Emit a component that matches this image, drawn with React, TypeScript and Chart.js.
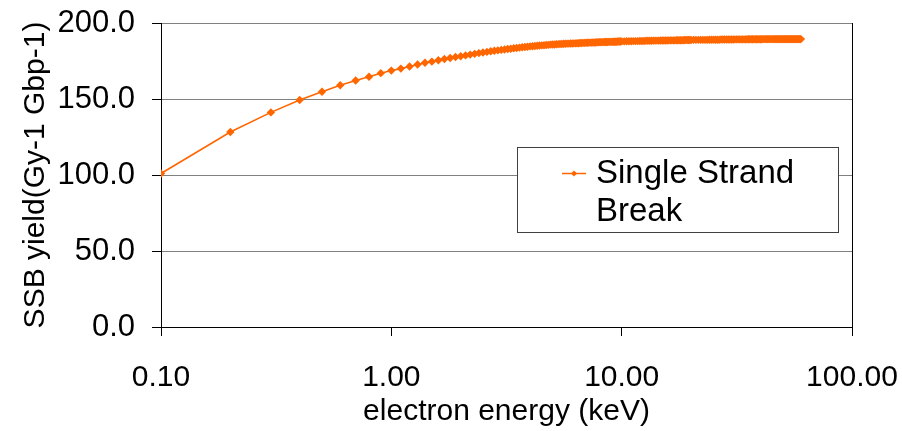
import React, { useEffect, useRef } from 'react';
import { Chart, registerables } from 'chart.js';

Chart.register(...registerables);

// Electron energy (keV) at which the SSB yield was sampled
const energyKeV = [
  0.1, 0.2, 0.3, 0.4, 0.5, 0.6, 0.7, 0.8, 0.9, 1.0,
  1.1, 1.2, 1.3, 1.4, 1.5, 1.6, 1.7, 1.8, 1.9, 2.0,
  2.1, 2.2, 2.3, 2.4, 2.5, 2.6, 2.7, 2.8, 2.9, 3.0,
  3.1, 3.2, 3.3, 3.4, 3.5, 3.6, 3.7, 3.8, 3.9, 4.0,
  4.1, 4.2, 4.3, 4.4, 4.5, 4.6, 4.7, 4.8, 4.9, 5.0,
  5.1, 5.2, 5.3, 5.4, 5.5, 5.6, 5.7, 5.8, 5.9, 6.0,
  6.1, 6.2, 6.3, 6.4, 6.5, 6.6, 6.7, 6.8, 6.9, 7.0,
  7.1, 7.2, 7.3, 7.4, 7.5, 7.6, 7.7, 7.8, 7.9, 8.0,
  8.1, 8.2, 8.3, 8.4, 8.5, 8.6, 8.7, 8.8, 8.9, 9.0,
  9.1, 9.2, 9.3, 9.4, 9.5, 9.6, 9.7, 9.8, 9.9, 10.0,
  10.25, 10.5, 10.75, 11, 11.25, 11.5, 11.75, 12, 12.25, 12.5,
  12.75, 13, 13.25, 13.5, 13.75, 14, 14.25, 14.5, 14.75, 15,
  15.25, 15.5, 15.75, 16, 16.25, 16.5, 16.75, 17, 17.25, 17.5,
  17.75, 18, 18.25, 18.5, 18.75, 19, 19.25, 19.5, 19.75, 20,
  20.5, 21, 21.5, 22, 22.5, 23, 23.5,
  24, 24.5, 25, 25.5, 26, 26.5,
  27, 27.5, 28, 28.5, 29, 29.5, 30, 30.5,
  31, 31.5, 32, 32.5, 33, 33.5, 34, 34.5,
  35, 35.5, 36, 36.5, 37, 37.5, 38, 38.5, 39, 39.5, 40, 40.5,
  41, 41.5, 42, 42.5, 43, 43.5, 44, 44.5, 45, 45.5,
  46, 46.5, 47, 47.5, 48, 48.5, 49, 49.5, 50, 50.5,
  51, 51.5, 52, 52.5, 53, 53.5, 54, 54.5, 55, 55.5,
  56, 56.5, 57, 57.5, 58, 58.5, 59, 59.5, 60,
];

// SSB yield (Gy-1 Gbp-1)
const ssbYield = [
  101.0, 128.3, 141.2, 149.3, 154.8, 159.0, 162.2, 164.6, 167.0, 168.7,
  170.0, 171.4, 172.7, 173.8, 174.6, 175.5, 176.3, 177.0, 177.6, 178.1,
  178.7, 179.2, 179.7, 180.2, 180.6, 181.0, 181.4, 181.7, 182.0, 182.3,
  182.6, 182.9, 183.1, 183.4, 183.6, 183.8, 184.0, 184.2, 184.4, 184.6,
  184.7, 184.9, 185.0, 185.2, 185.3, 185.4, 185.5, 185.6, 185.8, 185.9,
  185.9, 186.0, 186.1, 186.2, 186.2, 186.3, 186.3, 186.4, 186.4, 186.5,
  186.5, 186.6, 186.6, 186.7, 186.7, 186.8, 186.8, 186.9, 186.9, 187.0,
  187.0, 187.1, 187.1, 187.1, 187.2, 187.2, 187.2, 187.3, 187.3, 187.4,
  187.4, 187.4, 187.4, 187.5, 187.5, 187.5, 187.5, 187.6, 187.6, 187.6,
  187.6, 187.7, 187.7, 187.7, 187.7, 187.8, 187.8, 187.8, 187.8, 187.9,
  187.9, 188.0, 188.0, 188.0, 188.1, 188.1, 188.1, 188.2, 188.2, 188.2,
  188.3, 188.3, 188.3, 188.3, 188.4, 188.4, 188.4, 188.4, 188.5, 188.5,
  188.5, 188.5, 188.5, 188.6, 188.6, 188.6, 188.6, 188.6, 188.7, 188.7,
  188.7, 188.7, 188.7, 188.7, 188.8, 188.8, 188.8, 188.8, 188.8, 188.8,
  188.9, 188.9, 188.9, 188.9, 188.9, 188.9, 188.9,
  189.0, 189.0, 189.0, 189.0, 189.0, 189.0,
  189.1, 189.1, 189.1, 189.1, 189.1, 189.1, 189.1, 189.1,
  189.2, 189.2, 189.2, 189.2, 189.2, 189.2, 189.2, 189.2,
  189.3, 189.3, 189.3, 189.3, 189.3, 189.3, 189.3, 189.3, 189.3, 189.3, 189.3, 189.3,
  189.4, 189.4, 189.4, 189.4, 189.4, 189.4, 189.4, 189.4, 189.4, 189.4,
  189.4, 189.4, 189.4, 189.4, 189.4, 189.4, 189.4, 189.4, 189.4, 189.4,
  189.4, 189.4, 189.4, 189.4, 189.4, 189.4, 189.4, 189.4, 189.4, 189.4,
  189.4, 189.4, 189.4, 189.4, 189.4, 189.4, 189.4, 189.4, 189.4,
];

const xTickValues = [0.1, 1, 10, 100];
const yTickValues = [0, 50, 100, 150, 200];
const legendLines = ['Single Strand', 'Break'];
const xTitle = 'electron energy (keV)';
const yTitle = 'SSB yield(Gy-1 Gbp-1)';

const FONT = '"Liberation Sans", Arial, Helvetica, sans-serif';
const ORANGE = '#FF6600';

function drawDiamond(ctx: CanvasRenderingContext2D, x: number, y: number, r: number) {
  ctx.beginPath();
  ctx.moveTo(x, y - r);
  ctx.lineTo(x + r, y);
  ctx.lineTo(x, y + r);
  ctx.lineTo(x - r, y);
  ctx.closePath();
  ctx.fill();
}

const boxLegend = {
  id: 'boxLegend',
  afterDraw(chart: any) {
    const ctx: CanvasRenderingContext2D = chart.ctx;
    const bx = 517;
    const by = 147;
    const bw = 321;
    const bh = 85;
    ctx.save();
    ctx.fillStyle = '#ffffff';
    ctx.fillRect(bx, by, bw, bh);
    ctx.strokeStyle = '#404040';
    ctx.lineWidth = 1;
    ctx.strokeRect(bx + 0.5, by + 0.5, bw, bh);
    // sample line + marker
    const ly = 173.5;
    ctx.strokeStyle = ORANGE;
    ctx.lineWidth = 1.5;
    ctx.beginPath();
    ctx.moveTo(562, ly);
    ctx.lineTo(586, ly);
    ctx.stroke();
    ctx.fillStyle = ORANGE;
    drawDiamond(ctx, 574, ly, 3);
    // text
    ctx.fillStyle = '#000000';
    ctx.font = `33px ${FONT}`;
    ctx.textAlign = 'left';
    ctx.textBaseline = 'middle';
    ctx.fillText(legendLines[0], 596, 174);
    ctx.fillText(legendLines[1], 596, 212);
    ctx.restore();
  },
};

function zeroPadding(s: any) {
  s.paddingTop = 0;
  s.paddingBottom = 0;
  s.paddingLeft = 0;
  s.paddingRight = 0;
}

export default function App() {
  const canvasRef = useRef<HTMLCanvasElement | null>(null);

  useEffect(() => {
    document.body.style.margin = '0';
    const canvas = canvasRef.current;
    if (!canvas) return;
    const points = energyKeV.map((x, i) => ({ x, y: ssbYield[i] }));
    const chart = new Chart(canvas, {
      type: 'line',
      data: {
        datasets: [
          {
            label: legendLines.join(' '),
            data: points,
            borderColor: ORANGE,
            backgroundColor: ORANGE,
            borderWidth: 1.6,
            pointStyle: 'rectRot',
            pointRadius: 4.2,
            pointBorderWidth: 0,
            pointBackgroundColor: ORANGE,
            tension: 0,
          },
        ],
      },
      options: {
        animation: false,
        responsive: false,
        maintainAspectRatio: false,
        layout: { padding: { top: 23, right: 50, left: 0, bottom: 0 } },
        plugins: {
          legend: { display: false },
          tooltip: { enabled: false },
        },
        scales: {
          x: {
            type: 'logarithmic',
            min: 0.1,
            max: 100,
            afterBuildTicks: (s: any) => {
              s.ticks = xTickValues.map((v) => ({ value: v }));
            },
            afterFit: (s: any) => {
              s.height = 104;
              zeroPadding(s);
            },
            ticks: {
              callback: (v: any) => Number(v).toFixed(2),
              color: '#000',
              font: { size: 30, family: FONT },
              padding: 24,
              maxRotation: 0,
              autoSkip: false,
            },
            grid: {
              drawOnChartArea: true,
              color: (c: any) => (c.tick && c.tick.value === 100 ? '#000000' : 'rgba(0,0,0,0)'),
              tickColor: '#000',
              tickLength: 9,
              lineWidth: 1,
            },
            border: { display: true, color: '#000', width: 1 },
            title: {
              display: true,
              text: xTitle,
              color: '#000',
              font: { size: 30, family: FONT },
              padding: { top: 0, bottom: 1 },
            },
          },
          y: {
            min: 0,
            max: 200,
            afterBuildTicks: (s: any) => {
              s.ticks = yTickValues.map((v) => ({ value: v }));
            },
            afterFit: (s: any) => {
              s.width = 161;
              zeroPadding(s);
            },
            ticks: {
              callback: (v: any) => Number(v).toFixed(1),
              color: '#000',
              font: { size: 31, family: FONT },
              padding: 17,
            },
            grid: {
              color: '#808080',
              tickColor: '#000',
              tickLength: 9,
              lineWidth: 1,
            },
            border: { display: true, color: '#000', width: 1 },
            title: {
              display: true,
              text: yTitle,
              color: '#000',
              font: { size: 30, family: FONT },
              padding: { top: 18, bottom: 0 },
            },
          },
        },
      },
      plugins: [boxLegend],
    } as any);
    return () => chart.destroy();
  }, []);

  return (
    <div style={{ position: 'absolute', left: 0, top: 0, width: 902, height: 431, background: '#fff' }}>
      <canvas ref={canvasRef} width={902} height={431} style={{ width: 902, height: 431, display: 'block' }} />
    </div>
  );
}
